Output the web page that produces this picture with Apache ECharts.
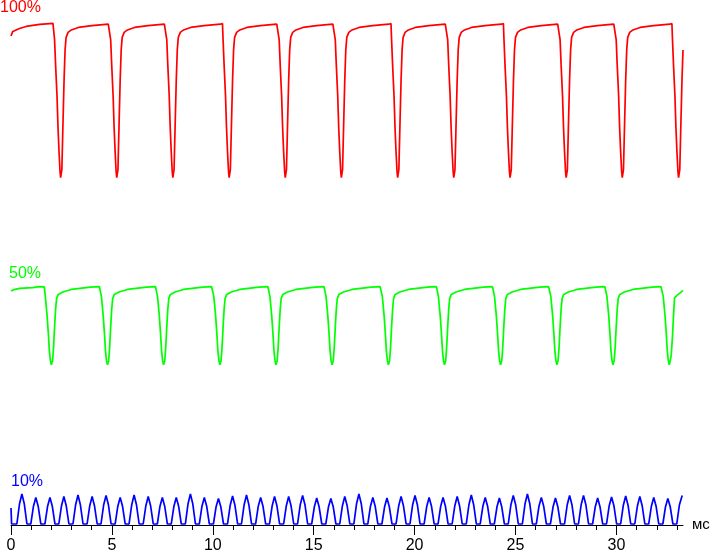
<!DOCTYPE html>
<html><head><meta charset="utf-8">
<script src="https://cdn.jsdelivr.net/npm/echarts@6/dist/echarts.min.js"></script>
<style>html,body{margin:0;padding:0;background:#fff}#c{width:710px;height:553px}</style>
</head><body><div id="c"></div>
<script>
// Curve labels (brightness level of each trace)
const LABELS = ['100%', '50%', '10%'];
const COLORS = ['#ff0000', '#00ff00', '#0000ff'];
// X axis ticks (ms)
const TICK_MAJOR = [0, 5, 10, 15, 20, 25, 30];
const TICK_MINOR = [0,1,2,3,4,5,6,7,8,9,10,11,12,13,14,15,16,17,18,19,20,21,22,23,24,25,26,27,28,29,30,31,32,33];
const X_MAX = 33.3;
const X_NAME = 'мс';

// 100% trace: [time ms, level]
const RED_100 = [
[0,97.8],[0.09,98.7],[0.42,99.3],[0.75,99.7],[1.42,100.1],[2.08,100.3],
[2.13,100.3],[2.16,97],[2.21,92],[2.28,85.8],[2.33,79.4],[2.38,74.6],[2.43,70.6],[2.46,69.4],
[2.52,71],[2.58,81],[2.63,89],[2.68,95],[2.73,97.5],[2.83,98.5],[2.99,99],[3.34,99.5],[4.01,99.85],[4.82,100.15],
[4.91,100.3],[4.94,97],[4.99,92],[5.06,85.8],[5.11,79.4],[5.16,74.6],[5.21,70.6],[5.24,69.4],
[5.30,71],[5.36,81],[5.41,89],[5.46,95],[5.51,97.5],[5.61,98.5],[5.77,99],[6.12,99.5],[6.79,99.85],[7.60,100.15],
[7.69,100.3],[7.72,97],[7.77,92],[7.84,85.8],[7.89,79.4],[7.94,74.6],[7.99,70.6],[8.02,69.4],
[8.08,71],[8.14,81],[8.19,89],[8.24,95],[8.29,97.5],[8.39,98.5],[8.55,99],[8.90,99.5],[9.57,99.85],[10.38,100.15],
[10.48,100.3],[10.51,97],[10.56,92],[10.63,85.8],[10.68,79.4],[10.73,74.6],[10.78,70.6],[10.81,69.4],
[10.87,71],[10.93,81],[10.98,89],[11.03,95],[11.08,97.5],[11.18,98.5],[11.34,99],[11.69,99.5],[12.36,99.85],[13.17,100.15],
[13.26,100.3],[13.29,97],[13.34,92],[13.41,85.8],[13.46,79.4],[13.51,74.6],[13.56,70.6],[13.59,69.4],
[13.65,71],[13.71,81],[13.76,89],[13.81,95],[13.86,97.5],[13.96,98.5],[14.12,99],[14.47,99.5],[15.14,99.85],[15.95,100.15],
[16.04,100.3],[16.07,97],[16.12,92],[16.19,85.8],[16.24,79.4],[16.29,74.6],[16.34,70.6],[16.37,69.4],
[16.43,71],[16.49,81],[16.54,89],[16.59,95],[16.64,97.5],[16.74,98.5],[16.90,99],[17.25,99.5],[17.92,99.85],[18.73,100.15],
[18.83,100.3],[18.86,97],[18.91,92],[18.98,85.8],[19.03,79.4],[19.08,74.6],[19.13,70.6],[19.16,69.4],
[19.22,71],[19.28,81],[19.33,89],[19.38,95],[19.43,97.5],[19.53,98.5],[19.69,99],[20.04,99.5],[20.71,99.85],[21.52,100.15],
[21.61,100.3],[21.64,97],[21.69,92],[21.76,85.8],[21.81,79.4],[21.86,74.6],[21.91,70.6],[21.94,69.4],
[22.00,71],[22.06,81],[22.11,89],[22.16,95],[22.21,97.5],[22.31,98.5],[22.47,99],[22.82,99.5],[23.49,99.85],[24.30,100.15],
[24.40,100.3],[24.43,97],[24.48,92],[24.55,85.8],[24.60,79.4],[24.65,74.6],[24.70,70.6],[24.73,69.4],
[24.79,71],[24.85,81],[24.90,89],[24.95,95],[25.00,97.5],[25.10,98.5],[25.26,99],[25.61,99.5],[26.28,99.85],[27.09,100.15],
[27.18,100.3],[27.21,97],[27.26,92],[27.33,85.8],[27.38,79.4],[27.43,74.6],[27.48,70.6],[27.51,69.4],
[27.57,71],[27.63,81],[27.68,89],[27.73,95],[27.78,97.5],[27.88,98.5],[28.04,99],[28.39,99.5],[29.06,99.85],[29.87,100.15],
[29.96,100.3],[29.99,97],[30.04,92],[30.11,85.8],[30.16,79.4],[30.21,74.6],[30.26,70.6],[30.29,69.4],
[30.35,71],[30.41,81],[30.46,89],[30.51,95],[30.56,97.5],[30.66,98.5],[30.82,99],[31.17,99.5],[31.84,99.85],[32.65,100.15],
[32.75,100.3],[32.78,97],[32.83,92],[32.90,85.8],[32.95,79.4],[33.00,74.6],[33.05,70.6],[33.08,69.4],
[33.14,71],[33.20,81],[33.25,89],[33.30,95]
];

// 50% trace
const GREEN_50 = [
[0,46.7],[0.1,46.9],[0.42,47.2],[1.08,47.35],[1.41,47.55],
[1.65,47.5],[1.70,45.6],[1.79,41.7],[1.85,38.2],[1.90,34.8],[1.95,32.8],[2.00,31.9],
[2.06,32.7],[2.11,35.5],[2.16,39.5],[2.21,43],[2.26,45.2],[2.34,46],[2.57,46.5],[2.99,47],[3.94,47.45],[4.38,47.55],
[4.43,47.5],[4.48,45.6],[4.57,41.7],[4.63,38.2],[4.68,34.8],[4.73,32.8],[4.78,31.9],
[4.84,32.7],[4.89,35.5],[4.94,39.5],[4.99,43],[5.04,45.2],[5.12,46],[5.35,46.5],[5.77,47],[6.72,47.45],[7.16,47.55],
[7.21,47.5],[7.26,45.6],[7.35,41.7],[7.41,38.2],[7.46,34.8],[7.51,32.8],[7.56,31.9],
[7.62,32.7],[7.67,35.5],[7.72,39.5],[7.77,43],[7.82,45.2],[7.90,46],[8.13,46.5],[8.55,47],[9.50,47.45],[9.94,47.55],
[10.00,47.5],[10.05,45.6],[10.14,41.7],[10.20,38.2],[10.25,34.8],[10.30,32.8],[10.35,31.9],
[10.41,32.7],[10.46,35.5],[10.51,39.5],[10.56,43],[10.61,45.2],[10.69,46],[10.92,46.5],[11.34,47],[12.29,47.45],[12.73,47.55],
[12.78,47.5],[12.83,45.6],[12.92,41.7],[12.98,38.2],[13.03,34.8],[13.08,32.8],[13.13,31.9],
[13.19,32.7],[13.24,35.5],[13.29,39.5],[13.34,43],[13.39,45.2],[13.47,46],[13.70,46.5],[14.12,47],[15.07,47.45],[15.51,47.55],
[15.56,47.5],[15.61,45.6],[15.70,41.7],[15.76,38.2],[15.81,34.8],[15.86,32.8],[15.91,31.9],
[15.97,32.7],[16.02,35.5],[16.07,39.5],[16.12,43],[16.17,45.2],[16.25,46],[16.48,46.5],[16.90,47],[17.85,47.45],[18.29,47.55],
[18.35,47.5],[18.40,45.6],[18.49,41.7],[18.55,38.2],[18.60,34.8],[18.65,32.8],[18.70,31.9],
[18.76,32.7],[18.81,35.5],[18.86,39.5],[18.91,43],[18.96,45.2],[19.04,46],[19.27,46.5],[19.69,47],[20.64,47.45],[21.08,47.55],
[21.13,47.5],[21.18,45.6],[21.27,41.7],[21.33,38.2],[21.38,34.8],[21.43,32.8],[21.48,31.9],
[21.54,32.7],[21.59,35.5],[21.64,39.5],[21.69,43],[21.74,45.2],[21.82,46],[22.05,46.5],[22.47,47],[23.42,47.45],[23.86,47.55],
[23.91,47.5],[23.96,45.6],[24.05,41.7],[24.11,38.2],[24.16,34.8],[24.21,32.8],[24.26,31.9],
[24.32,32.7],[24.37,35.5],[24.42,39.5],[24.47,43],[24.52,45.2],[24.60,46],[24.83,46.5],[25.25,47],[26.20,47.45],[26.64,47.55],
[26.70,47.5],[26.75,45.6],[26.84,41.7],[26.90,38.2],[26.95,34.8],[27.00,32.8],[27.05,31.9],
[27.11,32.7],[27.16,35.5],[27.21,39.5],[27.26,43],[27.31,45.2],[27.39,46],[27.62,46.5],[28.04,47],[28.99,47.45],[29.43,47.55],
[29.48,47.5],[29.53,45.6],[29.62,41.7],[29.68,38.2],[29.73,34.8],[29.78,32.8],[29.83,31.9],
[29.89,32.7],[29.94,35.5],[29.99,39.5],[30.04,43],[30.09,45.2],[30.17,46],[30.40,46.5],[30.82,47],[31.77,47.45],[32.21,47.55],
[32.27,47.5],[32.32,45.6],[32.41,41.7],[32.47,38.2],[32.52,34.8],[32.57,32.8],[32.62,31.9],
[32.67,32.7],[32.72,34],[32.78,37.7],[32.83,41.7],[32.88,45.3],[33.00,45.8],[33.16,46.3],[33.30,46.8]
];

// 10% trace
const BLUE_10 = [
[0,3.2],[0.03,0],[0.29,0],[0.42,4.0],[0.54,6.0],[0.66,4.0],[0.79,0],
[0.98,0],[1.11,3.5],[1.23,5.3],[1.35,3.5],[1.48,0],
[1.68,0],[1.81,3.5],[1.93,5.3],[2.05,3.5],[2.18,0],
[2.37,0],[2.50,3.6],[2.62,5.5],[2.74,3.6],[2.87,0],
[3.07,0],[3.20,3.8],[3.32,5.8],[3.44,3.8],[3.57,0],
[3.77,0],[3.90,3.6],[4.02,5.5],[4.14,3.6],[4.27,0],
[4.46,0],[4.59,3.8],[4.71,5.7],[4.83,3.8],[4.96,0],
[5.16,0],[5.29,3.5],[5.41,5.3],[5.53,3.5],[5.66,0],
[5.85,0],[5.98,3.8],[6.10,5.8],[6.22,3.8],[6.35,0],
[6.55,0],[6.68,3.6],[6.80,5.5],[6.92,3.6],[7.05,0],
[7.25,0],[7.38,3.5],[7.50,5.3],[7.62,3.5],[7.75,0],
[7.94,0],[8.07,3.5],[8.19,5.3],[8.31,3.5],[8.44,0],
[8.64,0],[8.77,4.0],[8.89,6.0],[9.01,4.0],[9.14,0],
[9.33,0],[9.46,3.5],[9.58,5.3],[9.70,3.5],[9.83,0],
[10.03,0],[10.16,3.4],[10.28,5.1],[10.40,3.4],[10.53,0],
[10.73,0],[10.86,3.7],[10.98,5.6],[11.10,3.7],[11.23,0],
[11.42,0],[11.55,3.8],[11.67,5.8],[11.79,3.8],[11.92,0],
[12.12,0],[12.25,3.5],[12.37,5.3],[12.49,3.5],[12.62,0],
[12.81,0],[12.94,3.6],[13.06,5.5],[13.18,3.6],[13.31,0],
[13.51,0],[13.64,3.6],[13.76,5.5],[13.88,3.6],[14.01,0],
[14.20,0],[14.33,3.8],[14.45,5.7],[14.57,3.8],[14.70,0],
[14.90,0],[15.03,3.4],[15.15,5.2],[15.27,3.4],[15.40,0],
[15.60,0],[15.73,3.4],[15.85,5.1],[15.97,3.4],[16.10,0],
[16.29,0],[16.42,3.6],[16.54,5.5],[16.66,3.6],[16.79,0],
[16.99,0],[17.12,4.0],[17.24,6.0],[17.36,4.0],[17.49,0],
[17.68,0],[17.81,3.5],[17.93,5.3],[18.05,3.5],[18.18,0],
[18.38,0],[18.51,3.4],[18.63,5.2],[18.75,3.4],[18.88,0],
[19.08,0],[19.21,3.6],[19.33,5.5],[19.45,3.6],[19.58,0],
[19.77,0],[19.90,3.8],[20.02,5.7],[20.14,3.8],[20.27,0],
[20.47,0],[20.60,3.5],[20.72,5.3],[20.84,3.5],[20.97,0],
[21.16,0],[21.29,3.5],[21.41,5.3],[21.53,3.5],[21.66,0],
[21.86,0],[21.99,3.6],[22.11,5.5],[22.23,3.6],[22.36,0],
[22.56,0],[22.69,3.8],[22.81,5.8],[22.93,3.8],[23.06,0],
[23.25,0],[23.38,3.5],[23.50,5.3],[23.62,3.5],[23.75,0],
[23.95,0],[24.08,3.4],[24.20,5.2],[24.32,3.4],[24.45,0],
[24.64,0],[24.77,3.8],[24.89,5.7],[25.01,3.8],[25.14,0],
[25.34,0],[25.47,4.0],[25.59,6.0],[25.71,4.0],[25.84,0],
[26.03,0],[26.16,3.5],[26.28,5.3],[26.40,3.5],[26.53,0],
[26.73,0],[26.86,3.4],[26.98,5.2],[27.10,3.4],[27.23,0],
[27.43,0],[27.56,3.8],[27.68,5.7],[27.80,3.8],[27.93,0],
[28.12,0],[28.25,3.8],[28.37,5.7],[28.49,3.8],[28.62,0],
[28.82,0],[28.95,3.4],[29.07,5.2],[29.19,3.4],[29.32,0],
[29.51,0],[29.64,3.6],[29.76,5.4],[29.88,3.6],[30.01,0],
[30.21,0],[30.34,3.7],[30.46,5.6],[30.58,3.7],[30.71,0],
[30.91,0],[31.04,3.6],[31.16,5.5],[31.28,3.6],[31.41,0],
[31.60,0],[31.73,3.5],[31.85,5.3],[31.97,3.5],[32.10,0],
[32.30,0],[32.43,3.4],[32.55,5.1],[32.67,3.4],[32.80,0],
[32.99,0],[33.12,3.8],[33.26,5.7]
];

const FONT = '"Liberation Sans", Arial, sans-serif';
const chart = echarts.init(document.getElementById('c'), null, {renderer: 'canvas'});

const lineSeries = (name, data, color) => ({
  name, type: 'line', data, xAxisIndex: 0, yAxisIndex: 0,
  showSymbol: false, symbol: 'none', silent: true, clip: false,
  lineStyle: {color, width: 1.7}, itemStyle: {color}
});

chart.setOption({
  animation: false,
  backgroundColor: '#ffffff',
  grid: {left: 11, right: 27, top: 0, bottom: 28, containLabel: false, outerBoundsMode: 'none'},
  xAxis: [
    {
      type: 'value', min: 0, max: X_MAX, position: 'bottom',
      name: X_NAME, nameLocation: 'end', nameGap: 9,
      nameTextStyle: {color: '#000', fontSize: 15, fontFamily: FONT, align: 'left', verticalAlign: 'middle'},
      axisLine: {show: true, onZero: false, lineStyle: {color: '#000', width: 1}},
      axisTick: {show: true, length: 5, customValues: TICK_MINOR, lineStyle: {color: '#000', width: 1}},
      axisLabel: {show: false},
      splitLine: {show: false}
    },
    {
      type: 'value', min: 0, max: X_MAX, position: 'bottom',
      axisLine: {show: false, onZero: false},
      axisTick: {show: true, length: 10, customValues: TICK_MAJOR, lineStyle: {color: '#000', width: 1}},
      axisLabel: {show: true, customValues: TICK_MAJOR, margin: 13, color: '#000', fontSize: 16, fontFamily: FONT},
      splitLine: {show: false}
    }
  ],
  yAxis: {type: 'value', min: -0.2, max: 105, show: false, splitLine: {show: false}},
  graphic: [
    {type: 'text', left: 0, top: 0, silent: true, style: {text: LABELS[0], fill: COLORS[0], font: '16px ' + FONT}},
    {type: 'text', left: 9, top: 266, silent: true, style: {text: LABELS[1], fill: COLORS[1], font: '16px ' + FONT}},
    {type: 'text', left: 11, top: 474, silent: true, style: {text: LABELS[2], fill: COLORS[2], font: '16px ' + FONT}}
  ],
  series: [
    lineSeries(LABELS[0], RED_100, COLORS[0]),
    lineSeries(LABELS[1], GREEN_50, COLORS[1]),
    lineSeries(LABELS[2], BLUE_10, COLORS[2])
  ]
});
</script>
</body></html>
